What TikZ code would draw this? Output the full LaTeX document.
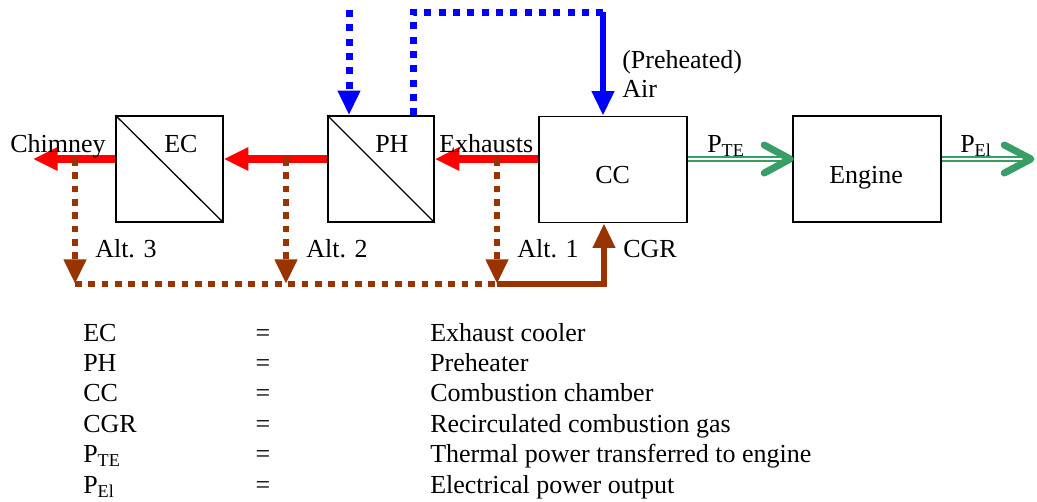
\documentclass[tikz,border=0pt]{standalone}
\usepackage{fontspec}
\setmainfont{Liberation Serif}
\usetikzlibrary{arrows.meta}
\definecolor{ared}{RGB}{255,0,0}
\definecolor{ablue}{RGB}{0,0,255}
\definecolor{abrown}{RGB}{153,51,0}
\definecolor{agreen}{RGB}{56,158,102}
\newcommand{\mysub}[1]{\raisebox{-3pt}{\fontsize{13.6}{14}\selectfont #1}}
\begin{document}
\begin{tikzpicture}[x=0.75pt,y=-0.75pt,
  font=\fontsize{19.5}{23}\selectfont,
  box/.style={draw=black, line width=1.2pt, inner sep=0pt, minimum height=79.5pt},
  txt/.style={inner sep=0pt, anchor=base west},
  redarr/.style={draw=ared, line width=6pt, -{Triangle[length=18.5pt,width=16.5pt]}},
  brdot/.style={draw=abrown, line width=5pt, dash pattern=on 5pt off 5pt},
  brarr/.style={-{Triangle[length=18.5pt,width=16pt]}},
  brsolid/.style={draw=abrown, line width=4.5pt},
  bldot/.style={draw=ablue, line width=5.25pt, dash pattern=on 5.25pt off 5.5pt},
  blsolid/.style={draw=ablue, line width=4.8pt},
  blarr/.style={-{Triangle[length=18.5pt,width=16pt]}},
  gdbl/.style={draw=agreen, line width=1.5pt, double=white, double distance=1.5pt},
  chev/.style={draw=agreen, line width=5.25pt, line cap=round, line join=round}
]
\useasboundingbox (0,0) rectangle (1037,501);

% boxes
\node[box, minimum width=80pt] (ec) at (169.5,169) {};
\node[box, minimum width=79.5pt] (ph) at (381,169) {};
\node[box, minimum width=111pt] (cc) at (613,169.5) {};
\node[box, minimum width=111pt] (eng) at (867,169) {};
\draw[line width=1pt] (ec.north west) -- (ec.south east);
\draw[line width=1pt] (ph.north west) -- (ph.south east);

% box labels
\node[txt] (ecl) at (164,152) {EC};
\node[txt] (phl) at (375,152) {PH};
\node[txt] (ccl) at (595,183) {CC};
\node[txt] (engl) at (829,183) {Engine};

% reference coordinates
\coordinate (yr) at (0,159);
\coordinate (chim) at (33,159);
\coordinate (a3) at (75,159);
\coordinate (a2) at (286,159);
\coordinate (a1) at (497,159);
\coordinate (b3) at (75,284);
\coordinate (b2) at (286,284);
\coordinate (b1) at (497,284);
\coordinate (bc) at (604,284);
\coordinate (blt) at (349,10);
\coordinate (blc1) at (413,12);
\coordinate (blc2) at (603,12);
\coordinate (gend) at (1031,159);

% brown recirculation (drawn first, under red)
\draw[brdot] (b3) -- (b1);
\draw[brdot, brarr] (a3) -- (b3);
\draw[brdot, brarr] (a2) -- (b2);
\draw[brdot, brarr] (a1) -- (b1);
\draw[brsolid, brarr] (b1) -- (bc) -- (cc.south -| bc);

% red exhaust arrows
\draw[redarr] (cc.west |- yr) -- (ph.east |- yr);
\draw[redarr] (ph.west |- yr) -- (ec.east |- yr);
\draw[redarr] (ec.west |- yr) -- (chim);
% brown dots on top of red
\foreach \c in {a3,a2,a1}{
  \fill[abrown] ([xshift=-2.5pt,yshift=1.5pt]\c) rectangle ([xshift=2.5pt,yshift=-3.5pt]\c);
}

% blue air
\draw[bldot, blarr] (blt) -- (ph.north -| blt);
\draw[bldot] (ph.north -| blc1) -- (blc1) -- (blc2);
\draw[blsolid, blarr] (blc2) -- (cc.north -| blc2);

% green power
\draw[gdbl] (cc.east |- yr) -- ([xshift=-1pt]eng.west |- yr);
\draw[chev] ([xshift=-21pt,yshift=10.5pt]eng.west |- yr) -- ([xshift=-1.5pt]eng.west |- yr) -- ([xshift=-21pt,yshift=-10.5pt]eng.west |- yr);
\draw[gdbl] (eng.east |- yr) -- (gend);
\draw[chev] ([xshift=-20pt,yshift=10.5pt]gend) -- (gend) -- ([xshift=-20pt,yshift=-10.5pt]gend);

% labels
\node[txt] (chl) at (10,152) {Chimney};
\node[txt] (exl) at (439,152) {Exhausts};
\node[txt] (prl) at (622,68) {(Preheated)};
\node[txt] (airl) at (622,97) {Air};
\node[txt] (alt3) at (95,257) {Alt. 3};
\node[txt] (alt2) at (306,257) {Alt. 2};
\node[txt] (alt1) at (517,257) {Alt. 1};
\node[txt] (cgrl) at (623,257) {CGR};
\node[txt] (ptel) at (707,152) {P\mysub{TE}};
\node[txt] (pell) at (960,152) {P\mysub{El}};

% legend
\foreach \ab/\eq/\de [count=\i from 0] in {EC/=/Exhaust cooler, PH/=/Preheater, CC/=/Combustion chamber, CGR/=/Recirculated combustion gas, P\mysub{TE}/=/Thermal power transferred to engine, P\mysub{El}/=/Electrical power output}{
  \node[txt] (lga\i) at (83,341+30.4*\i) {\ab};
  \node[inner sep=0pt, anchor=base] (lgb\i) at (263,341+30.4*\i) {\eq};
  \node[txt] (lgc\i) at (430,341+30.4*\i) {\de};
}
\end{tikzpicture}
\end{document}
